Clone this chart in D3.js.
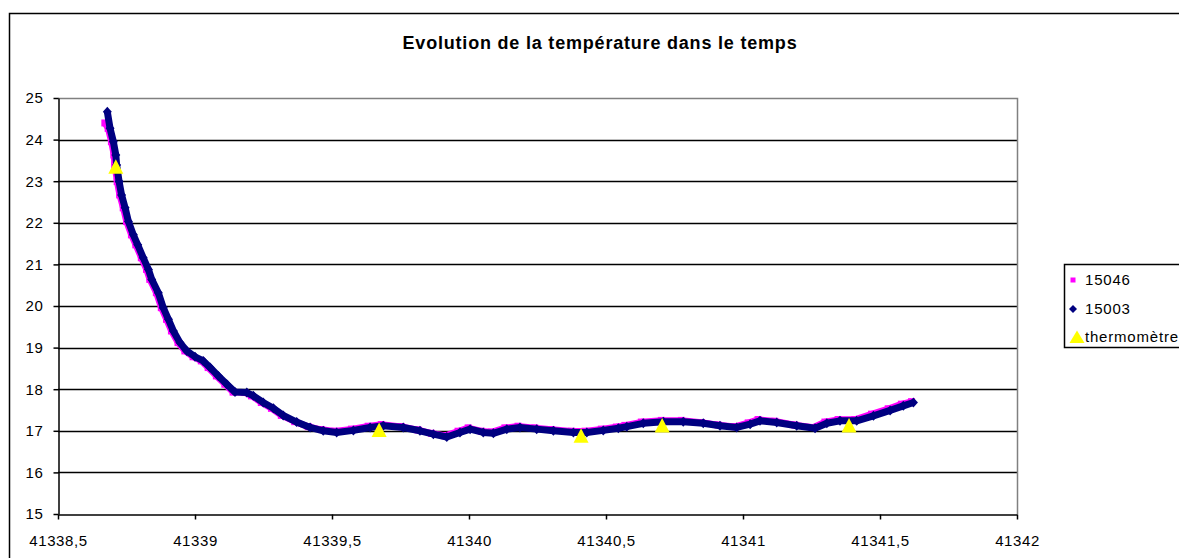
<!DOCTYPE html>
<html>
<head>
<meta charset="utf-8">
<script src="https://cdn.jsdelivr.net/npm/d3@7"></script>
<style>
  html, body { margin: 0; padding: 0; background: #fff; }
  svg { display: block; font-family: "Liberation Sans", Arial, sans-serif; }
</style>
</head>
<body>
<svg id="chart" width="1179" height="558"></svg>
<script>
// ---- Data ----
const chartTitle = "Evolution de la température dans le temps";
const seriesNames = ["15046", "15003", "thermomètre"];

const times15046 = [41338.671, 41338.683, 41338.695, 41338.704, 41338.707, 41338.716, 41338.725, 41338.738, 41338.750, 41338.768, 41338.784, 41338.804, 41338.823, 41338.835, 41338.859, 41338.877, 41338.896, 41338.914, 41338.938, 41338.963, 41338.993, 41339.023, 41339.048, 41339.078, 41339.109, 41339.139, 41339.182, 41339.206, 41339.242, 41339.279, 41339.315, 41339.364, 41339.413, 41339.461, 41339.510, 41339.571, 41339.632, 41339.680, 41339.753, 41339.814, 41339.863, 41339.912, 41339.960, 41339.997, 41340.045, 41340.082, 41340.131, 41340.179, 41340.240, 41340.301, 41340.374, 41340.423, 41340.483, 41340.538, 41340.569, 41340.629, 41340.702, 41340.775, 41340.848, 41340.909, 41340.970, 41341.019, 41341.055, 41341.116, 41341.189, 41341.256, 41341.299, 41341.347, 41341.408, 41341.469, 41341.530, 41341.578, 41341.615];
const temps15046 = [24.40, 24.27, 23.95, 23.63, 23.39, 22.99, 22.67, 22.36, 22.03, 21.71, 21.47, 21.16, 20.88, 20.64, 20.32, 19.96, 19.68, 19.40, 19.12, 18.92, 18.78, 18.68, 18.52, 18.32, 18.12, 17.93, 17.92, 17.84, 17.68, 17.54, 17.37, 17.22, 17.10, 17.03, 16.99, 17.04, 17.11, 17.15, 17.10, 17.02, 16.94, 16.88, 16.99, 17.07, 16.99, 16.97, 17.07, 17.11, 17.07, 17.03, 16.99, 16.99, 17.04, 17.09, 17.13, 17.21, 17.25, 17.25, 17.20, 17.14, 17.10, 17.19, 17.27, 17.23, 17.14, 17.08, 17.21, 17.27, 17.27, 17.40, 17.53, 17.64, 17.70];

const times15003 = [41338.680, 41338.690, 41338.702, 41338.711, 41338.714, 41338.723, 41338.732, 41338.745, 41338.757, 41338.775, 41338.791, 41338.811, 41338.830, 41338.842, 41338.866, 41338.884, 41338.903, 41338.921, 41338.945, 41338.970, 41339.000, 41339.030, 41339.055, 41339.085, 41339.116, 41339.146, 41339.189, 41339.213, 41339.249, 41339.286, 41339.322, 41339.371, 41339.420, 41339.468, 41339.517, 41339.578, 41339.639, 41339.687, 41339.760, 41339.821, 41339.870, 41339.919, 41339.967, 41340.004, 41340.052, 41340.089, 41340.138, 41340.186, 41340.247, 41340.308, 41340.381, 41340.430, 41340.490, 41340.545, 41340.576, 41340.636, 41340.709, 41340.782, 41340.855, 41340.916, 41340.977, 41341.026, 41341.062, 41341.123, 41341.196, 41341.263, 41341.306, 41341.354, 41341.415, 41341.476, 41341.537, 41341.585, 41341.622];
const temps15003 = [24.67, 24.27, 23.95, 23.63, 23.39, 22.99, 22.67, 22.36, 22.03, 21.71, 21.47, 21.16, 20.88, 20.64, 20.32, 19.96, 19.68, 19.40, 19.12, 18.92, 18.78, 18.68, 18.52, 18.32, 18.12, 17.93, 17.92, 17.84, 17.68, 17.54, 17.37, 17.21, 17.08, 17.00, 16.96, 17.01, 17.08, 17.12, 17.08, 17.00, 16.92, 16.85, 16.96, 17.04, 16.96, 16.94, 17.04, 17.08, 17.04, 17.00, 16.96, 16.96, 17.01, 17.06, 17.10, 17.18, 17.22, 17.22, 17.18, 17.12, 17.08, 17.16, 17.24, 17.20, 17.12, 17.06, 17.18, 17.24, 17.24, 17.36, 17.49, 17.60, 17.68];

const thermoTimes = [41338.711, 41339.672, 41340.409, 41340.705, 41341.387];
const thermoTemps = [23.35, 17.02, 16.88, 17.13, 17.13];

const xTicks = [41338.5, 41339, 41339.5, 41340, 41340.5, 41341, 41341.5, 41342];
const yTicks = [15, 16, 17, 18, 19, 20, 21, 22, 23, 24, 25];

// ---- Build ----
const svg = d3.select("#chart");
const colors = { "15046": "#ff00ff", "15003": "#000080", "thermomètre": "#ffff00" };

const x = d3.scaleLinear().domain([41338.5, 41342]).range([58, 1017]);
const y = d3.scaleLinear().domain([15, 25]).range([514, 98]);

// outer chart border (extends beyond the window like the reference)
svg.append("rect").attr("x", 9.5).attr("y", 13.5).attr("width", 1300).attr("height", 700)
  .attr("fill", "#fff").attr("stroke", "#000").attr("stroke-width", 1.5);

// title
svg.append("text").attr("x", 600).attr("y", 49).attr("text-anchor", "middle")
  .attr("font-size", 18).attr("font-weight", "bold").attr("letter-spacing", 0.8)
  .attr("fill", "#000").text(chartTitle);

// gridlines
svg.append("g").selectAll("line").data(yTicks.filter(v => v > 15 && v < 25)).join("line")
  .attr("x1", x.range()[0]).attr("x2", x.range()[1])
  .attr("y1", d => Math.round(y(d)) + 0.5).attr("y2", d => Math.round(y(d)) + 0.5)
  .attr("stroke", "#000").attr("stroke-width", 1.5);

// plot border top/right (gray)
svg.append("path")
  .attr("d", `M${x.range()[0]},${Math.round(y(25)) + 0.5}H${x.range()[1] + 0.5}V${y(15)}`)
  .attr("fill", "none").attr("stroke", "#808080").attr("stroke-width", 1.5);

const fmt = v => String(v).replace(".", ",");

const gx = svg.append("g").attr("transform", `translate(0,${Math.round(y(15)) + 0.5})`)
  .call(d3.axisBottom(x).tickValues(xTicks).tickFormat(fmt).tickSize(5).tickPadding(16).tickSizeOuter(0));
const gy = svg.append("g").attr("transform", `translate(${x.range()[0] + 0.5},0)`)
  .call(d3.axisLeft(y).tickValues(yTicks).tickFormat(d3.format("d")).tickSize(5).tickPadding(10).tickSizeOuter(0));
[gx, gy].forEach(g => {
  g.select(".domain").attr("stroke", "#000").attr("stroke-width", 1.5);
  g.selectAll(".tick line").attr("stroke", "#000").attr("stroke-width", 1.5);
  g.selectAll("text").attr("font-size", 15).attr("letter-spacing", 0.6)
    .attr("fill", "#000").attr("font-family", "Liberation Sans, Arial, sans-serif");
});

// series
const pink = times15046.map((t, i) => [t, temps15046[i]]);
const navy = times15003.map((t, i) => [t, temps15003[i]]);
const line = d3.line().x(d => x(d[0])).y(d => y(d[1]));

svg.append("path").attr("d", line(pink)).attr("fill", "none")
  .attr("stroke", colors["15046"]).attr("stroke-width", 6.5).attr("stroke-linejoin", "round");
svg.append("g").selectAll("rect").data(pink).join("rect")
  .attr("x", d => x(d[0]) - 3.5).attr("y", d => y(d[1]) - 3.5).attr("width", 7).attr("height", 7)
  .attr("fill", colors["15046"]);

svg.append("path").attr("d", line(navy)).attr("fill", "none")
  .attr("stroke", colors["15003"]).attr("stroke-width", 7).attr("stroke-linejoin", "round");
const diamond = "M0,-5L4.5,0L0,5L-4.5,0Z";
svg.append("g").selectAll("path").data(navy).join("path")
  .attr("transform", d => `translate(${x(d[0])},${y(d[1])})`)
  .attr("d", diamond).attr("fill", colors["15003"]);

const tri = "M0,-7.5L7.5,7L-7.5,7Z";
const thermo = thermoTimes.map((t, i) => [t, thermoTemps[i]]);
svg.append("g").selectAll("path").data(thermo).join("path")
  .attr("transform", d => `translate(${x(d[0])},${y(d[1])})`)
  .attr("d", tri).attr("fill", colors["thermomètre"]);

// legend
const lg = svg.append("g");
lg.append("rect").attr("x", 1064.5).attr("y", 264.5).attr("width", 300).attr("height", 83)
  .attr("fill", "#fff").attr("stroke", "#000").attr("stroke-width", 1.5);
const legendY = [280, 309, 337];
seriesNames.forEach((name, i) => {
  const cy = legendY[i];
  if (i === 0) lg.append("rect").attr("x", 1070.5).attr("y", cy - 2.5).attr("width", 5).attr("height", 5).attr("fill", colors[name]);
  if (i === 1) lg.append("path").attr("transform", `translate(1073,${cy})`).attr("d", "M0,-4L4,0L0,4L-4,0Z").attr("fill", colors[name]);
  if (i === 2) lg.append("path").attr("transform", `translate(1077,${cy})`).attr("d", "M0,-6.5L7.5,6L-7.5,6Z").attr("fill", colors[name]);
  lg.append("text").attr("x", 1085).attr("y", cy + 5).attr("font-size", 15).attr("letter-spacing", 0.8)
    .attr("fill", "#000").text(name);
});
</script>
</body>
</html>
